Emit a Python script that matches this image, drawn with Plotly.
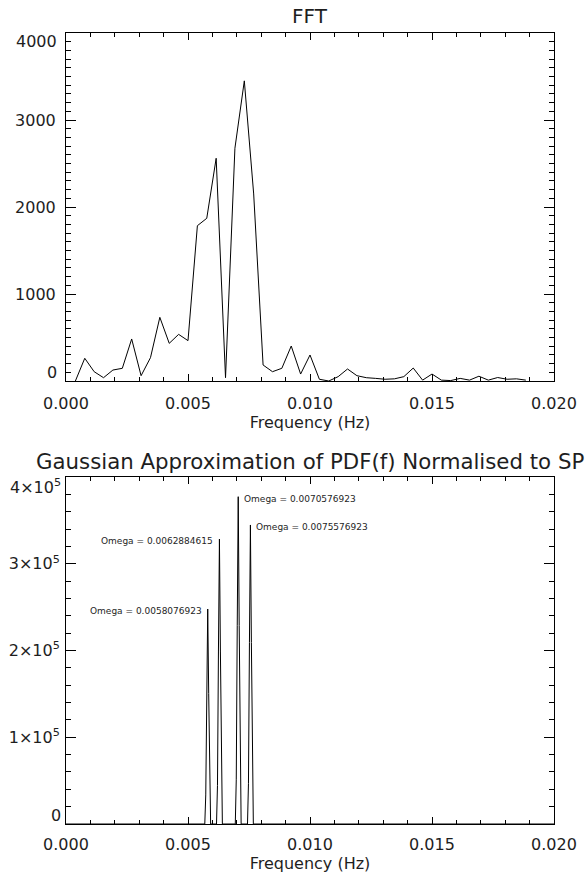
import plotly.graph_objects as go

# ---------------- data ----------------
fft_freq = [0.000385, 0.000769, 0.001154, 0.001538, 0.001923, 0.002308, 0.002692,
            0.003077, 0.003462, 0.003846, 0.004231, 0.004615, 0.005000, 0.005385,
            0.005769, 0.006154, 0.006538, 0.006923, 0.007308, 0.007692, 0.008077,
            0.008462, 0.008846, 0.009231, 0.009615, 0.010000, 0.010385, 0.010769,
            0.011154, 0.011538, 0.011923, 0.012308, 0.012692, 0.013077, 0.013462,
            0.013846, 0.014231, 0.014615, 0.015000, 0.015385, 0.015769, 0.016154,
            0.016538, 0.016923, 0.017308, 0.017692, 0.018077, 0.018462, 0.018846]
fft_power = [0, 261, 107, 38, 126, 146, 483, 61, 268, 732, 433, 536, 464, 1785,
             1870, 2560, 38, 2675, 3450, 2150, 184, 107, 146, 402, 80, 299, 20, 0,
             50, 138, 61, 38, 30, 20, 25, 50, 149, 10, 80, 10, 5, 30, 10, 55, 10,
             40, 20, 25, 10]

pdf_freq = [0.0,
            0.005688, 0.005728, 0.005768, 0.005808, 0.005848, 0.005888, 0.005928,
            0.006168, 0.006208, 0.006248, 0.006288, 0.006328, 0.006368, 0.006408,
            0.006938, 0.006978, 0.007018, 0.007058, 0.007098, 0.007138, 0.007178,
            0.007438, 0.007478, 0.007518, 0.007558, 0.007598, 0.007638, 0.007678,
            0.020]
pdf_value = [0,
             0, 33500, 150400, 247800, 150400, 33500, 0,
             0, 44300, 199400, 328500, 199400, 44300, 0,
             0, 50900, 229000, 377300, 229000, 50900, 0,
             0, 46500, 209200, 344700, 209200, 46500, 0,
             0]

omega_freq = [0.0058076923, 0.0062884615, 0.0070576923, 0.0075576923]
omega_peak = [247800, 328500, 377300, 344700]
omega_labels = ["Omega = 0.0058076923", "Omega = 0.0062884615",
                "Omega = 0.0070576923", "Omega = 0.0075576923"]
omega_side = ["left", "left", "right", "right"]

x_ticks = [0.000, 0.005, 0.010, 0.015, 0.020]
x_ticktext = ["0.000", "0.005", "0.010", "0.015", "0.020"]
y1_ticks = [0, 1000, 2000, 3000, 4000]
y1_ticktext = ["0", "1000", "2000", "3000", "4000"]
y2_ticks = [0, 100000, 200000, 300000, 400000]
y2_ticktext = ["0", "1×10<sup>5</sup>", "2×10<sup>5</sup>", "3×10<sup>5</sup>", "4×10<sup>5</sup>"]

top_title = "FFT"
bottom_title = "Gaussian Approximation of PDF(f) Normalised to SP"
x_title = "Frequency (Hz)"

# ---------------- layout ----------------
W, H = 585, 873
FONT = "DejaVu Sans"
TXT = "#1e1e1e"
X0, X1 = 66 / W, 554 / W
Y1D = [(H - 381) / H, (H - 33) / H]
Y2D = [(H - 824) / H, (H - 477) / H]

fig = go.Figure()
fig.add_trace(go.Scatter(x=fft_freq, y=fft_power, mode="lines",
                         line=dict(color="black", width=1), xaxis="x", yaxis="y",
                         showlegend=False, hoverinfo="skip"))
fig.add_trace(go.Scatter(x=pdf_freq, y=pdf_value, mode="lines",
                         line=dict(color="black", width=1), xaxis="x2", yaxis="y2",
                         showlegend=False, hoverinfo="skip"))


def xax(anchor, standoff_lab, standoff_title):
    return dict(domain=[X0, X1], range=[0, 0.02], anchor=anchor, automargin=False,
                tickmode="array", tickvals=x_ticks, ticktext=x_ticktext,
                ticks="inside", ticklen=7, tickwidth=1, tickcolor="black",
                minor=dict(tickmode="linear", tick0=0, dtick=0.001, ticks="inside",
                           ticklen=4, tickwidth=1, tickcolor="black"),
                showline=True, linecolor="black", linewidth=1, mirror="allticks",
                showgrid=False, zeroline=False,
                tickfont=dict(family=FONT, size=16, color=TXT),
                ticklabelstandoff=standoff_lab,
                title=dict(text=x_title, font=dict(family=FONT, size=16, color=TXT),
                           standoff=standoff_title))


def yax(anchor, domain, rng, tv, tt, minor_dt, lab_standoff):
    return dict(domain=domain, range=rng, anchor=anchor, automargin=False,
                tickmode="array", tickvals=tv[1:-1], ticktext=tt[1:-1],
                ticks="inside", ticklen=10, tickwidth=1, tickcolor="black",
                minor=dict(tickmode="linear", tick0=0, dtick=minor_dt, ticks="inside",
                           ticklen=5, tickwidth=1, tickcolor="black"),
                showline=True, linecolor="black", linewidth=1, mirror="allticks",
                showgrid=False, zeroline=False,
                tickfont=dict(family=FONT, size=16, color=TXT),
                ticklabelstandoff=lab_standoff)


fig.update_layout(
    template="none",
    width=W, height=H, autosize=False,
    margin=dict(l=0, r=0, t=0, b=0),
    paper_bgcolor="white", plot_bgcolor="white",
    xaxis=xax("y", 8, 4),
    yaxis=yax("x", Y1D, [0, 4000], y1_ticks, y1_ticktext, 100, 6),
    xaxis2=xax("y2", 6, 2),
    yaxis2=yax("x2", Y2D, [0, 400000], y2_ticks, y2_ticktext, 20000, 2),
    showlegend=False,
)

ann = []
# end-of-axis tick labels drawn inside the box extent (as the original does)
for yref, tv, tt, xs in (("y", y1_ticks, y1_ticktext, -7), ("y2", y2_ticks, y2_ticktext, -3)):
    xr = "x domain" if yref == "y" else "x2 domain"
    ann.append(dict(x=0, y=tv[0], xref=xr, yref=yref, text=tt[0], showarrow=False,
                    xanchor="right", yanchor="bottom", xshift=xs, yshift=-3,
                    font=dict(family=FONT, size=16, color=TXT)))
    ann.append(dict(x=0, y=tv[-1], xref=xr, yref=yref, text=tt[-1], showarrow=False,
                    xanchor="right", yanchor="top", xshift=xs, yshift=3,
                    font=dict(family=FONT, size=16, color=TXT)))

# titles
ann.append(dict(x=(X0 + X1) / 2, y=(H - 16) / H, xref="paper", yref="paper",
                text=top_title, showarrow=False, xanchor="center", yanchor="middle",
                font=dict(family=FONT, size=20, color=TXT)))
ann.append(dict(x=(X0 + X1) / 2, y=(H - 461) / H, xref="paper", yref="paper",
                text=bottom_title, showarrow=False, xanchor="center", yanchor="middle",
                font=dict(family=FONT, size=21.3, color=TXT)))

# omega labels
for f, p, lab, side in zip(omega_freq, omega_peak, omega_labels, omega_side):
    ann.append(dict(x=f, y=p, xref="x2", yref="y2", text=lab, showarrow=False,
                    xanchor="right" if side == "left" else "left",
                    xshift=-4 if side == "left" else 4, yanchor="middle", yshift=-2,
                    font=dict(family=FONT, size=9, color=TXT)))

fig.update_layout(annotations=ann)

fig.write_html("out.html", config={"displayModeBar": False},
               post_script="document.body.style.margin='0';")
